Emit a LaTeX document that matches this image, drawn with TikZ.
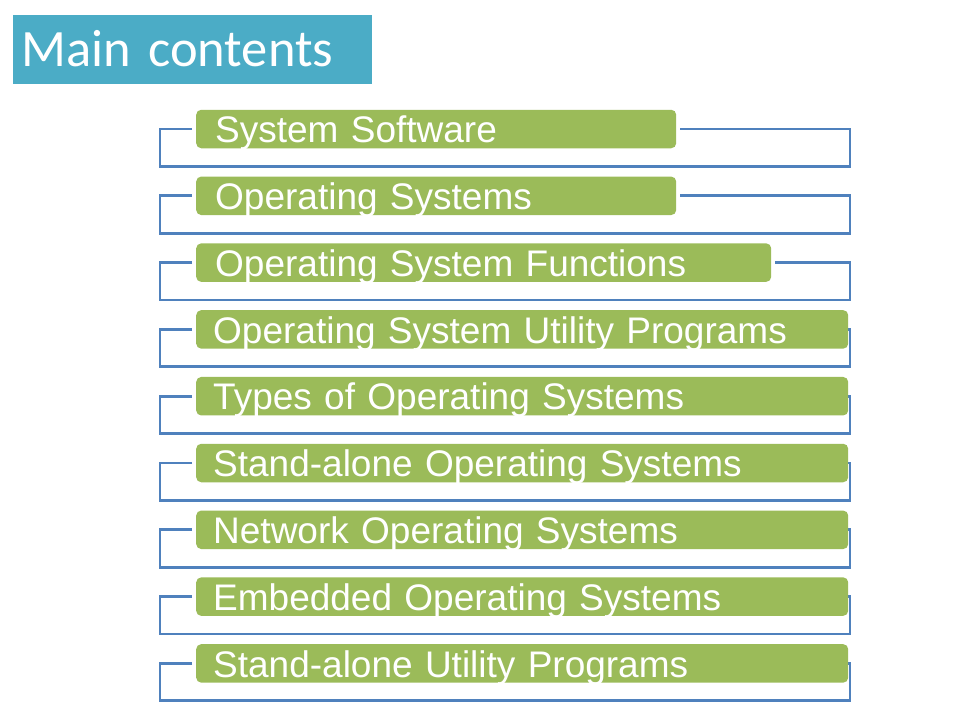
\documentclass[tikz,border=0pt]{standalone}
\usepackage{fontspec}
\usepackage{tikz}
\usetikzlibrary{backgrounds}
\newfontfamily\itemfont{Liberation Sans}
\newfontfamily\titlefont{Carlito}
\definecolor{titleblue}{HTML}{4BACC6}
\definecolor{itemgreen}{HTML}{9BBB59}
\definecolor{linkblue}{HTML}{4F81BD}

\begin{document}
\begin{tikzpicture}[x=1pt,y=-1pt]
            \tikzstyle{title node}=[fill=titleblue,anchor=north west,inner xsep=8pt,inner ysep=0pt,minimum height=69pt,text width=343pt,text height=34.4pt,text depth=0pt,text=white,font=\titlefont\fontsize{52.5}{56}\selectfont]
            \tikzstyle{item node}=[fill=itemgreen,rounded corners=5pt,anchor=west,inner ysep=0pt,minimum height=38.5pt,text height=27.4pt,text depth=0pt,text=white,font=\itemfont\fontsize{37}{40}\selectfont]
            \tikzstyle{bracket line}=[draw=linkblue,line width=2.8pt]
            \useasboundingbox (0,0) rectangle (960,720);

            \node[title node] (T) at (13,15) {Main contents};

            \foreach \txt/\w/\pad/\gap [count=\i, evaluate=\i as \y using 129+(\i-1)*66.8] in
                {System Software/480/19/4, Operating Systems/480/19/4, Operating System Functions/575/19/4,
                 Operating System Utility Programs/652/17/-6, Types of Operating Systems/652/17/-6,
                 Stand-alone Operating Systems/652/17/-6, Network Operating Systems/652/17/-6,
                 Embedded Operating Systems/652/17/-6, Stand-alone Utility Programs/652/17/-6} {
                \node[item node,inner xsep=\pad pt,text width=\w pt-2*\pad pt] (B\i) at (196,\y) {\txt};
                \begin{scope}[on background layer]
                \draw[bracket line] ([xshift=-4pt]B\i.west) -- (160,\y) -- (160,\y+37.3)
                    -- (850,\y+37.3) -- (850,\y) -- ([xshift=\gap pt]B\i.east);
                \end{scope}
            }
        \end{tikzpicture}
\end{document}
